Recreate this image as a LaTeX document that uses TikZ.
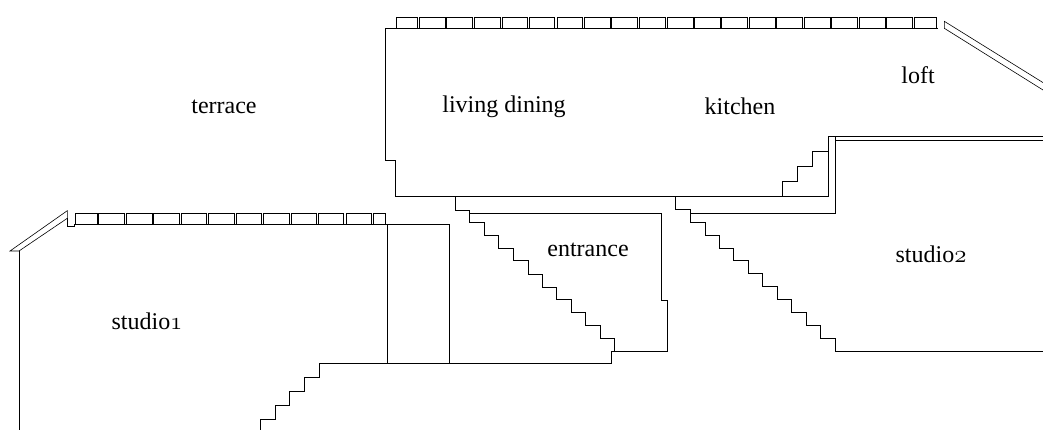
\documentclass[tikz,border=0pt]{standalone}
\usepackage{fontspec}
\setmainfont{Liberation Serif}
\newcommand{\onum}[1]{{\fontencoding{OML}\fontfamily{cmm}\fontseries{m}\fontshape{it}\selectfont #1}}
\tikzset{
  wall/.style={line width=0.9pt,line join=miter,black},
  thin wall/.style={line width=0.6pt,line join=miter,black},
  tile/.style={line width=0.8pt,black},
  roomlabel/.style={font=\fontsize{24}{27}\selectfont,text=black,inner sep=0pt,anchor=base}
}
\begin{document}
\begin{tikzpicture}[x=1pt,y=-1pt]
\useasboundingbox (0,0) rectangle (1043,430);
% upper storey outline
\draw[wall] (938,28.3) -- (385.7,28.3) -- (385.7,160) -- (395,160) -- (395,196.5) -- (828,196.5) -- (828,136) -- (1043,136);
\draw[wall] (828,136) -- (835,136) -- (835,213.3) -- (690,213.3);
\draw[wall] (835,140) -- (1043,140);
% kitchen steps
\draw[wall] (782.3,196.5) -- (782.3,181.7) -- (797.7,181.7) -- (797.7,166.7) -- (812.7,166.7) -- (812.7,151.7) -- (828,151.7);
% upper tiles
\foreach \a/\b in {396/417.7,419.3/445,446.7/472.7,474.3/500,502/527.7,529.3/554.7,557/582.7,584.3/610,611.7/637.7,639.3/665.7,667.3/693.3,694.7/720,721.7/747.7,749.3/775,776.7/802.7,804/830,831.7/857.3,859/885,886.7/912.7,914.3/936.7}
  \draw[tile] (\a,17.3) rectangle (\b,28.3);
% loft window
\draw[thin wall] (1043,90) -- (944.3,28.3) -- (944.3,21.3) -- (1043,82.6);
% lower tiles
\foreach \a/\b in {75.3/97,98.3/124,126.7/152,153.7/179,181.7/206.7,208.3/234,236.7/261.7,263.3/289.3,291.7/316.7,318.3/343.7,346.3/371.7,373.3/385.7}
  \draw[tile] (\a,213.3) rectangle (\b,224.3);
% studio1
\draw[wall] (449.7,224.3) -- (74.3,224.3) -- (74.3,226) -- (67.3,226) -- (67.3,218.3);
\draw[thin wall] (67.3,218.3) -- (19,251) -- (10,251) -- (67.3,210.7) -- (67.3,218.3);
\draw[wall] (19,251) -- (19,430);
\draw[wall] (387,224.3) -- (387,363.3);
\draw[wall] (449.7,224.3) -- (449.7,363.3);
% lower stair and entrance floor
\draw[wall] (260.7,430) -- (260.7,419) -- (275.3,419) -- (275.3,405) -- (289.7,405) -- (289.7,391.3) -- (304.7,391.3) -- (304.7,377.3) -- (319,377.3) -- (319,363.3) -- (611.7,363.3) -- (611.7,351.3) -- (667.3,351.3) -- (667.3,300.7) -- (661.7,300.7) -- (661.7,213.3) -- (469.7,213.3);
% entrance stair
\draw[wall] (455,196.5) -- (455,210) -- (469.7,210) -- (469.7,222.3) -- (484.7,222.3) -- (484.7,235) -- (498.7,235) -- (498.7,248.3) -- (513,248.3) -- (513,260.7) -- (528,260.7) -- (528,274) -- (542.3,274) -- (542.3,287) -- (556.7,287) -- (556.7,299.7) -- (571.3,299.7) -- (571.3,312.7) -- (585.7,312.7) -- (585.7,325.7) -- (600.3,325.7) -- (600.3,338.7) -- (614.7,338.7) -- (614.7,351.3);
% studio2 stair
\draw[wall] (675.3,196.5) -- (675.3,209.7) -- (690,209.7) -- (690,222.3) -- (705,222.3) -- (705,235) -- (719.3,235) -- (719.3,248.3) -- (733.7,248.3) -- (733.7,260.7) -- (748.3,260.7) -- (748.3,273.7) -- (762.7,273.7) -- (762.7,286.7) -- (777,286.7) -- (777,299.7) -- (791.7,299.7) -- (791.7,312.7) -- (806,312.7) -- (806,325.3) -- (820.3,325.3) -- (820.3,338.3) -- (835.3,338.3) -- (835.3,351.3) -- (1043,351.3);
% labels
\node[roomlabel] (terrace) at (224,114) {terrace};
\node[roomlabel] (living) at (504,112.5) {living dining};
\node[roomlabel] (kitchen) at (740,114.5) {kitchen};
\node[roomlabel] (loft) at (918,83.5) {loft};
\node[roomlabel] (entrance) at (588,256) {entrance};
\node[roomlabel] (studiotwo) at (931,262) {studio\onum{2}};
\node[roomlabel] (studioone) at (147,329) {studio\onum{1}};
\end{tikzpicture}
\end{document}
